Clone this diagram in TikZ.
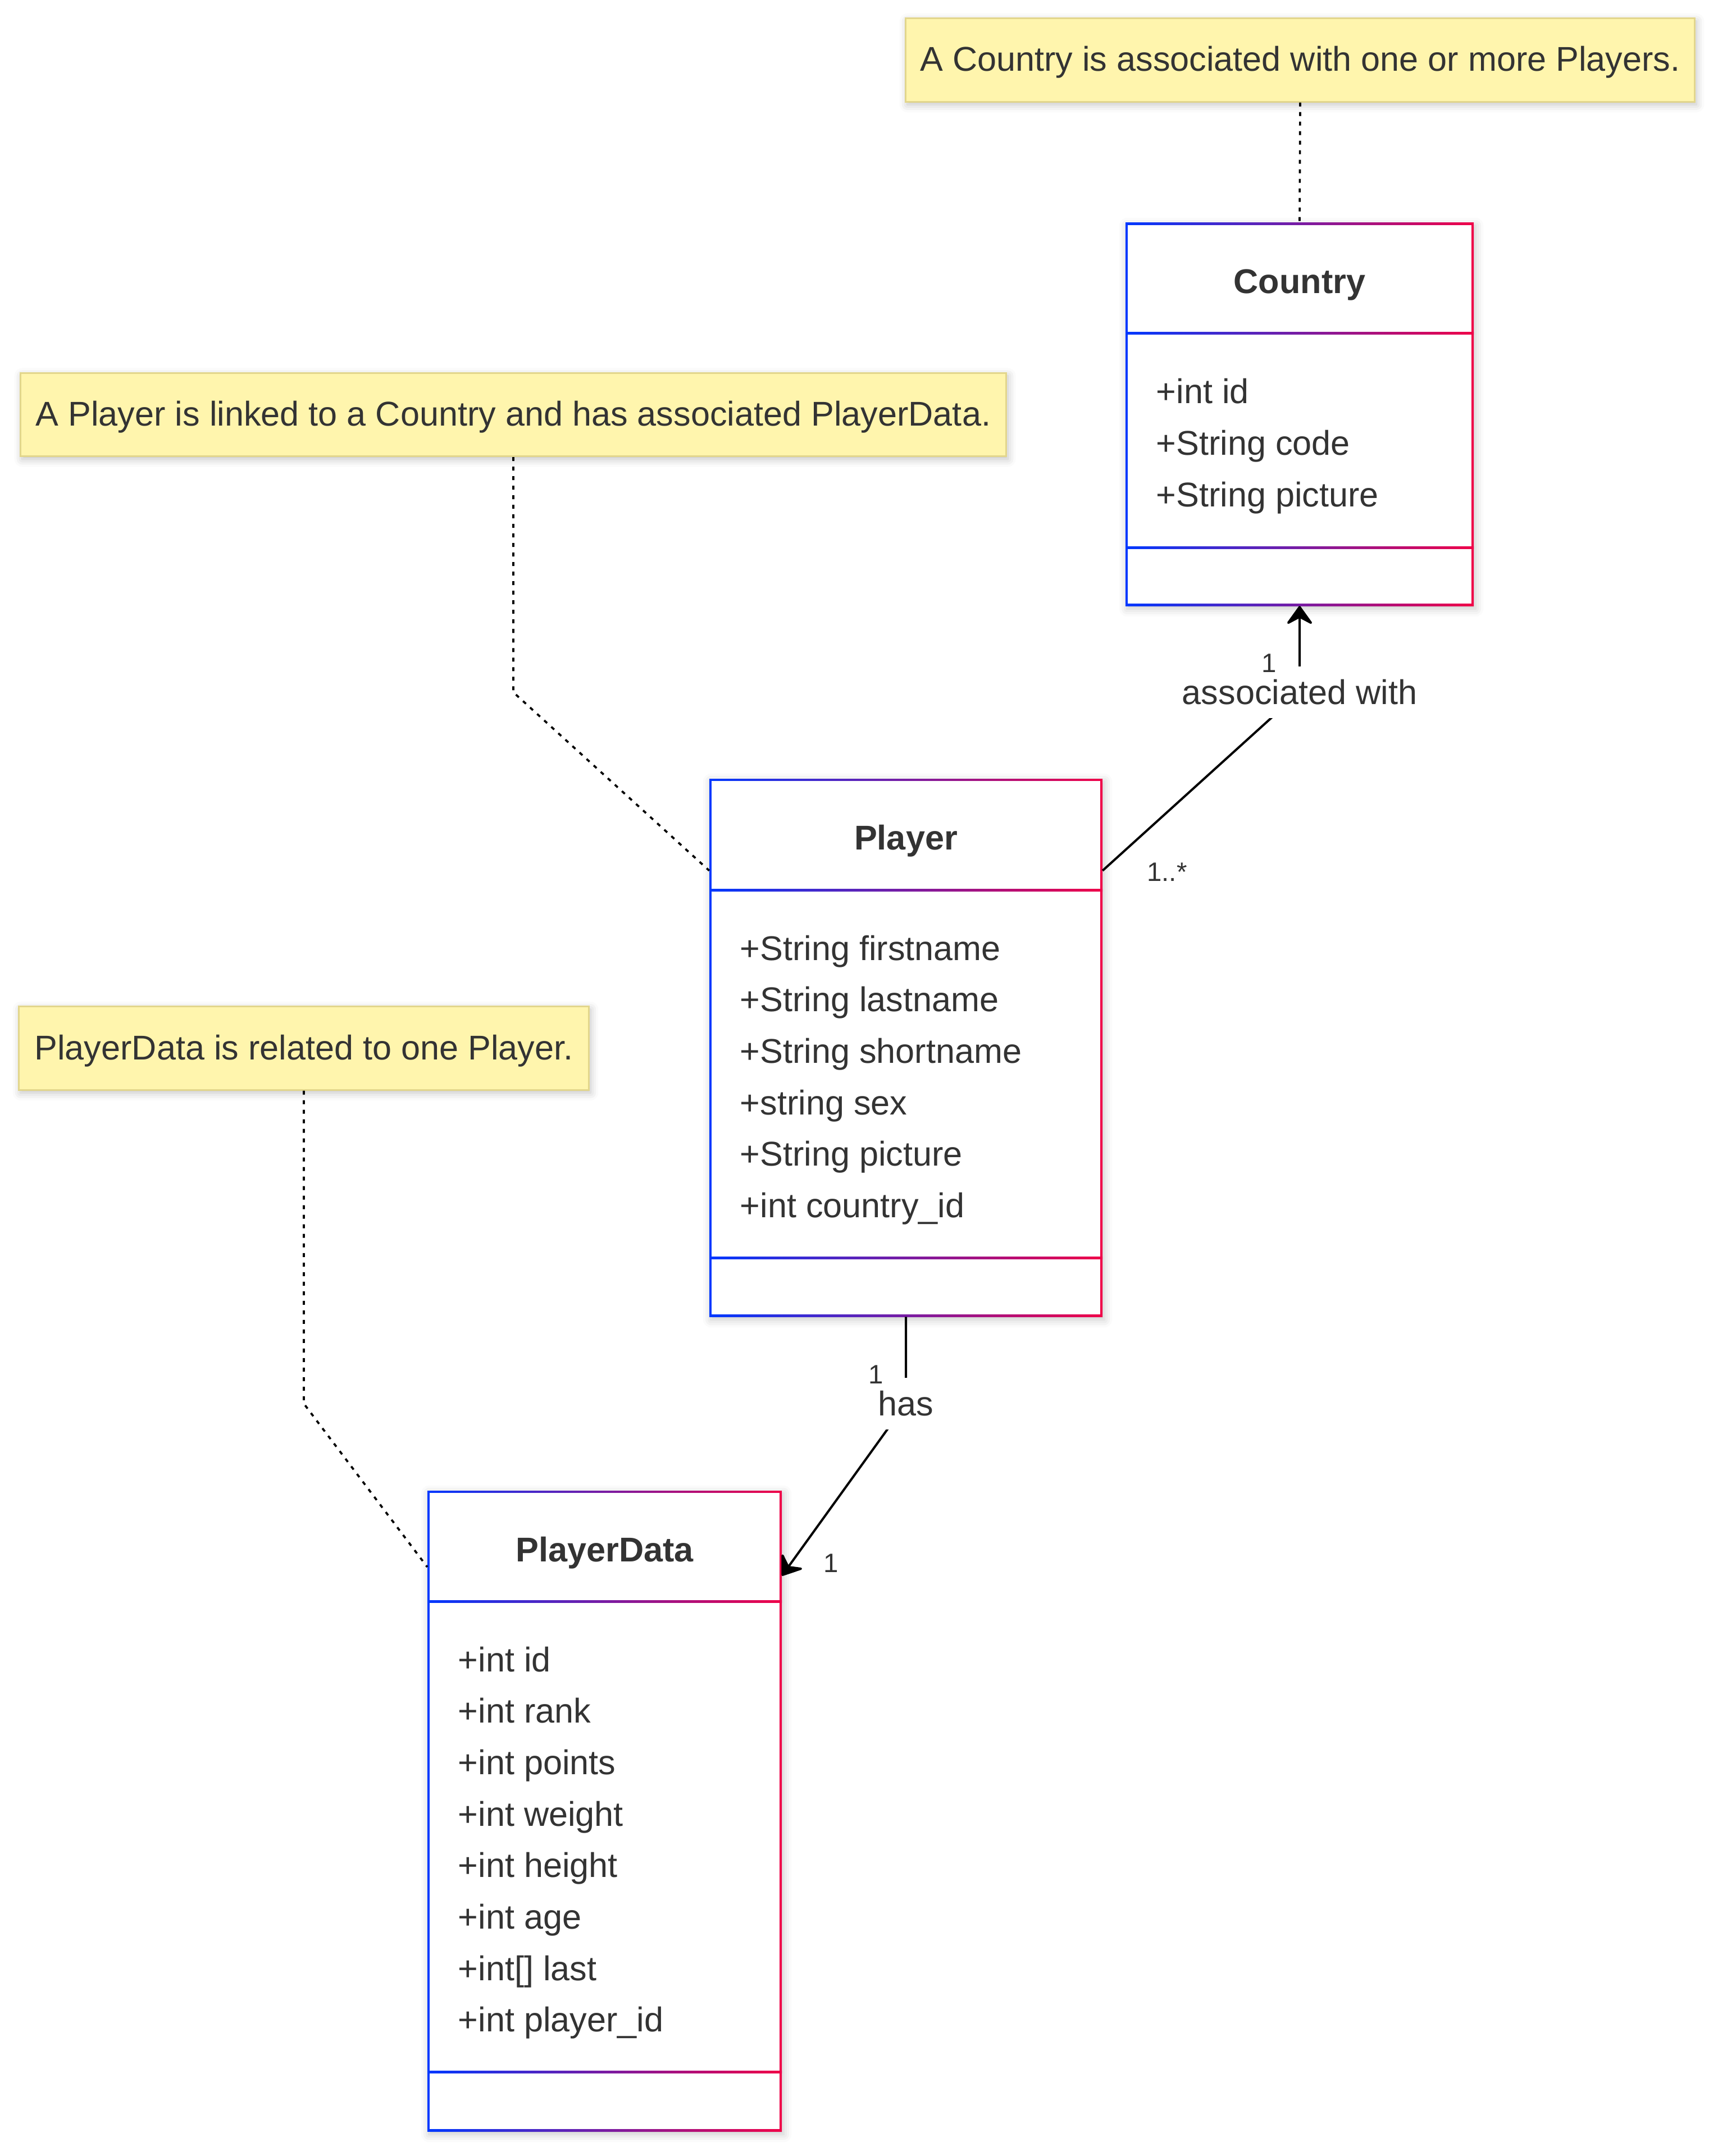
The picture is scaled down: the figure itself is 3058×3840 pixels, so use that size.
\documentclass[tikz,border=0pt]{standalone}
\usepackage{fontspec}
\setmainfont{Liberation Sans}
\usetikzlibrary{arrows.meta,shadows.blur}

\definecolor{umlblue}{RGB}{0,56,255}
\definecolor{umlred}{RGB}{240,0,72}
\definecolor{notefill}{RGB}{255,245,173}
\definecolor{noteline}{RGB}{226,214,140}
\definecolor{inktext}{RGB}{51,51,51}

\newcommand\umlfont{\fontsize{17.4pt}{21pt}\selectfont}
\newcommand\multfont{\fontsize{13.5pt}{16pt}\selectfont}

% gradient outline of a class box: left, top, right, bottom, first and second divider
\newcommand\classframe[6]{%
  \shade[left color=umlblue,right color=umlred] (#1,#2) rectangle (#3,#4);
  \fill[white] (#1+4,#2+4) rectangle (#3-4,#4-4);
  \shade[left color=umlblue,right color=umlred] (#1,#5-2) rectangle (#3,#5+2);
  \shade[left color=umlblue,right color=umlred] (#1,#6-2) rectangle (#3,#6+2);
}

\tikzset{
  classbox/.style={inner sep=0pt,outer sep=0pt,fill=white,
    blur shadow={shadow xshift=0.03cm,shadow yshift=-0.05cm,shadow blur radius=0.14cm,shadow opacity=22}},
  title/.style={font=\umlfont\bfseries,text=inktext,anchor=base,inner sep=0pt},
  attr/.style={font=\umlfont,text=inktext,anchor=base west,inner sep=0pt},
  notebox/.style={fill=notefill,draw=noteline,line width=0.03cm,text=inktext,font=\umlfont,
    inner sep=0pt,minimum height=1.48cm,text height=0.44cm,text depth=0.04cm,
    blur shadow={shadow xshift=0.03cm,shadow yshift=-0.05cm,shadow blur radius=0.14cm,shadow opacity=25}},
  notelink/.style={draw=black,line width=0.037cm,dash pattern=on 0.07cm off 0.1cm},
  relarrow/.style={draw=black,line width=0.04cm,-{Stealth[length=0.37cm,width=0.53cm,inset=0.14cm,round]}},
  rellabel/.style={font=\umlfont,text=inktext,fill=white,inner xsep=0.06cm,inner ysep=0.235cm},
  mult/.style={font=\multfont,text=inktext,inner sep=0pt},
}

\begin{document}
\begin{tikzpicture}[x=0.01cm,y=-0.01cm]
\useasboundingbox (0,0) rectangle (3058,3840);

% classes
\node[classbox,minimum width=6.20cm,minimum height=6.82cm] (country) at (2314,738) {};
\classframe{2004}{397}{2624}{1079}{594}{975}
\node[title] (countrytitle) at (2314,523) {Country};
\foreach \a [count=\i from 0] in {+int id,+String code,+String picture}
  \node[attr] (countryattr\i) at (2058,719+91.7*\i) {\a};

\node[classbox,minimum width=7.00cm,minimum height=9.58cm] (player) at (1613,1866) {};
\classframe{1263}{1387}{1963}{2345}{1585}{2240}
\node[title] (playertitle) at (1613,1513) {Player};
\foreach \a [count=\i from 0] in {+String firstname,+String lastname,+String shortname,+string sex,+String picture,+int country\_id}
  \node[attr] (playerattr\i) at (1317,1710+91.7*\i) {\a};

\node[classbox,minimum width=6.31cm,minimum height=11.41cm] (pdata) at (1076.5,3225.5) {};
\classframe{761}{2655}{1392}{3796}{2852}{3690}
\node[title] (pdatatitle) at (1076.5,2781) {PlayerData};
\foreach \a [count=\i from 0] in {+int id,+int rank,+int points,+int weight,+int height,+int age,+int{[]} last,+int player\_id}
  \node[attr] (pdataattr\i) at (815,2977+91.7*\i) {\a};

% notes
\node[notebox,minimum width=14.04cm] (note1) at (2315,107) {A Country is associated with one or more Players.};
\node[notebox,minimum width=17.54cm] (note2) at (914,738.5) {A Player is linked to a Country and has associated PlayerData.};
\node[notebox,minimum width=10.14cm] (note3) at (541,1867) {PlayerData is related to one Player.};

% relations
\coordinate (assocbend) at (2314,1233);
\coordinate (hasbend) at (1613,2500);
\draw[relarrow] (player.42) -- (assocbend) -- (country.south);
\draw[relarrow] (player.south) -- (hasbend) -- (pdata.53.5);
\node[rellabel] (assoclabel) at (assocbend) {associated with};
\node[rellabel] (haslabel) at (hasbend) {has};
\node[mult] (multcountry) at (2260,1181) {1};
\node[mult] (multplayer) at (2078,1553) {1..*};
\node[mult] (multowner) at (1560,2448) {1};
\node[mult] (multdata) at (1480,2784) {1};

% note links
\draw[notelink] (note1.south) -- (country.north);
\draw[notelink] (note2.south) -- (note2.south |- assocbend) -- (player.138);
\draw[notelink] (note3.south) -- (note3.south |- hasbend) -- (pdata.126.3);

\end{tikzpicture}
\end{document}
